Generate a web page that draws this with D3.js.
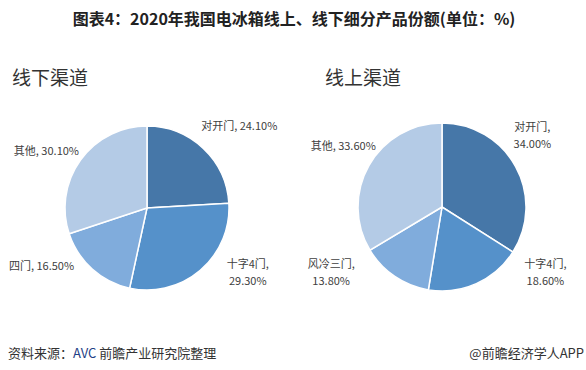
<!DOCTYPE html>
<html>
<head>
<meta charset="utf-8">
<script src="https://cdn.jsdelivr.net/npm/d3@7"></script>
<style>
  body { margin: 0; background: #fff; }
  text { font-family: "Noto Sans CJK SC", "Noto Sans", sans-serif; }
</style>
</head>
<body>
<div id="chart"></div>
<script>
// data
var offlineNames = ["对开门", "十字4门", "四门", "其他"];
var offlineValues = [24.1, 29.3, 16.5, 30.1];
var onlineNames = ["对开门", "十字4门", "风冷三门", "其他"];
var onlineValues = [34.0, 18.6, 13.8, 33.6];

// colors, one per slice order
var colors = ["#4677a8", "#5591ca", "#80acdc", "#b4cbe6"];

// label layout: lines per label and nudge from the label point
var offlineLabelLines = [1, 2, 1, 1];
var offlineLabelNudge = [[29, -15], [41, -5], [-44, -10], [-26, -3]];
var onlineLabelLines = [2, 2, 2, 1];
var onlineLabelNudge = [[8, -26], [65, -20], [-58, -12], [-17, -15]];

var width = 586, height = 370;

var svg = d3.select("#chart")
  .append("svg")
  .attr("width", width)
  .attr("height", height);

// title
svg.append("text")
  .attr("x", 294)
  .attr("y", 25)
  .attr("text-anchor", "middle")
  .style("font-size", "16px")
  .style("font-weight", "bold")
  .style("fill", "#222")
  .text("图表4：2020年我国电冰箱线上、线下细分产品份额(单位：%)");

var pie = d3.pie().sort(null).value(function(d) { return d; });

function drawPie(cx, cy, r, title, titleX, names, values, lines, nudge) {
  var g = svg.append("g")
    .attr("transform", "translate(" + cx + "," + cy + ")");

  svg.append("text")
    .attr("x", titleX)
    .attr("y", 85)
    .style("font-size", "19px")
    .style("fill", "#333")
    .text(title);

  var arc = d3.arc().innerRadius(0).outerRadius(r);
  var labelArc = d3.arc().innerRadius(r + 10).outerRadius(r + 10);

  var arcs = pie(values);

  g.selectAll("path")
    .data(arcs)
    .enter()
    .append("path")
      .attr("d", arc)
      .attr("fill", function(d, i) { return colors[i]; })
      .attr("stroke", "#fff")
      .attr("stroke-width", 1.5);

  var labels = g.selectAll("g.lbl")
    .data(arcs)
    .enter()
    .append("g")
      .attr("class", "lbl")
      .attr("transform", function(d, i) {
        var p = labelArc.centroid(d);
        return "translate(" + (p[0] + nudge[i][0]) + "," + (p[1] + nudge[i][1]) + ")";
      });

  labels.each(function(d, i) {
    var t = d3.select(this).append("text")
      .attr("text-anchor", "middle")
      .style("font-size", "11px")
      .style("fill", "#404040");
    var pct = values[i].toFixed(2) + "%";
    if (lines[i] == 1) {
      t.append("tspan").attr("x", 0).attr("y", 4).text(names[i] + ", " + pct);
    } else {
      t.append("tspan").attr("x", 0).attr("y", -4.5).text(names[i] + ",");
      t.append("tspan").attr("x", 0).attr("y", 12.5).text(pct);
    }
  });
}

drawPie(147, 208, 82, "线下渠道", 12, offlineNames, offlineValues, offlineLabelLines, offlineLabelNudge);
drawPie(442, 207, 84, "线上渠道", 325, onlineNames, onlineValues, onlineLabelLines, onlineLabelNudge);

// footer
var src = svg.append("text")
  .attr("x", 8)
  .attr("y", 358)
  .style("font-size", "13px")
  .style("fill", "#333");
src.append("tspan").text("资料来源：");
src.append("tspan").style("fill", "#1f3f86").text("AVC");
src.append("tspan").text(" 前瞻产业研究院整理");

svg.append("text")
  .attr("x", 584)
  .attr("y", 358)
  .attr("text-anchor", "end")
  .style("font-size", "13px")
  .style("fill", "#333")
  .text("@前瞻经济学人APP");
</script>
</body>
</html>
